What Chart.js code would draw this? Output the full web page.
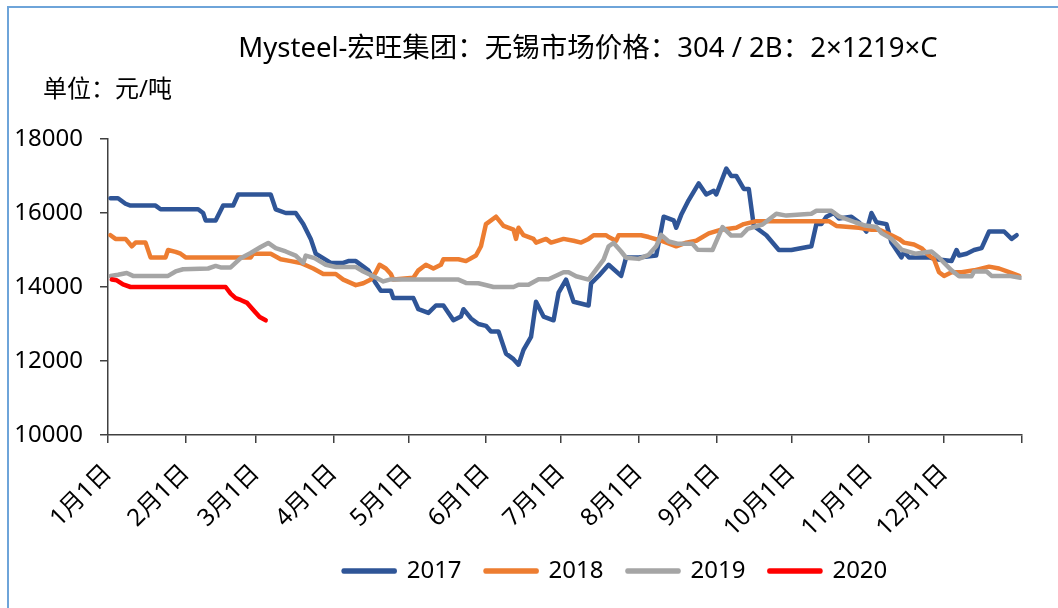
<!DOCTYPE html>
<html>
<head>
<meta charset="utf-8">
<script src="https://cdn.jsdelivr.net/npm/chart.js@4/dist/chart.umd.min.js"></script>
<style>
  html, body { margin: 0; padding: 0; background: #fff; }
  #wrap { position: relative; width: 1058px; height: 608px; overflow: hidden; }
  #frame { position: absolute; left: 7px; top: 6px; width: 1100px; height: 700px;
           border-left: 2px solid #6ea4d9; border-top: 2px solid #6ea4d9; }
  canvas { position: absolute; left: 0; top: 0; }
</style>
</head>
<body>
<div id="wrap">
  <div id="frame"></div>
  <canvas id="chart" width="1058" height="608"></canvas>
</div>
<script>
// DATA: [day of year, price]
const monthStarts = [0, 31, 59, 90, 120, 151, 181, 212, 243, 273, 304, 334, 365];
const monthLabels = ['1月1日', '2月1日', '3月1日', '4月1日', '5月1日', '6月1日', '7月1日',
  '8月1日', '9月1日', '10月1日', '11月1日', '12月1日', ''];
const yTicks = [10000, 12000, 14000, 16000, 18000];

const price2017 = [[1,16400],[4,16400],[7,16250],[9,16200],[19,16200],[21,16100],[36,16100],[38,16000],
  [39,15800],[43,15800],[46,16200],[50,16200],[52,16500],[65,16500],[67,16100],[71,16000],[75,16000],
  [78,15700],[81,15300],[83,14900],[89,14650],[94,14650],[96,14700],[99,14700],[102,14550],[104,14450],
  [107,14100],[109,13900],[113,13900],[114,13700],[122,13700],[124,13400],[128,13300],[131,13500],
  [134,13500],[138,13100],[141,13200],[142,13400],[145,13150],[148,13000],[151,12950],[153,12800],
  [156,12800],[159,12200],[162,12050],[164,11900],[166,12300],[169,12650],[171,13600],[174,13200],
  [178,13100],[180,13850],[183,14200],[186,13600],[192,13500],[193,14100],[196,14300],[200,14600],
  [205,14300],[207,14800],[212,14800],[219,14850],[222,15900],[226,15800],[227,15600],[229,15950],
  [232,16350],[236,16800],[239,16500],[242,16600],[243,16500],[247,17200],[249,17000],[251,17000],
  [254,16650],[256,16650],[258,15650],[263,15400],[268,15000],[273,15000],[281,15100],[283,15700],
  [285,15700],[287,15900],[290,16000],[292,15850],[297,15900],[300,15750],[303,15500],[305,16000],
  [307,15750],[311,15700],[313,15200],[317,14800],[318,14950],[320,14800],[328,14800],[331,14750],
  [337,14700],[339,15000],[340,14850],[343,14900],[346,15000],[349,15050],[352,15500],[358,15500],
  [361,15300],[363,15400]];

const price2018 = [[1,15400],[3,15300],[7,15300],[9.5,15100],[11,15200],[15,15200],[17,14800],[23,14800],
  [24,15000],[27,14950],[29,14900],[31,14800],[57,14800],[58,14900],[65,14900],[69,14750],[73,14700],
  [77,14650],[82,14500],[86,14350],[91,14350],[94,14200],[99,14050],[102,14100],[105,14200],[107,14400],
  [108.5,14600],[111,14500],[113,14350],[114,14200],[122,14250],[124,14450],[127,14600],[130,14500],
  [133,14600],[134,14750],[140,14750],[143,14700],[147,14850],[149,15100],[151,15700],[155,15900],
  [158,15650],[162,15550],[163,15300],[164,15600],[166,15400],[170,15300],[171,15200],[175,15300],
  [177,15200],[182,15300],[186,15250],[189,15200],[192,15300],[194,15400],[199,15400],[200,15350],
  [203,15250],[204,15400],[213,15400],[216,15350],[221,15250],[227,15100],[231,15200],[235,15250],
  [240,15450],[245,15550],[251,15600],[254,15700],[259,15780],[288,15780],[291,15650],[300,15600],
  [305,15550],[308,15550],[313,15400],[316,15300],[318,15200],[322,15150],[325,15050],[328,14850],
  [330,14750],[332,14400],[334,14300],[337,14400],[341,14400],[346,14450],[352,14550],[356,14500],
  [360,14400],[364,14300]];

const price2019 = [[1,14300],[4,14330],[7.5,14380],[10,14300],[24,14300],[27,14420],[30,14480],[40,14500],
  [43,14570],[45,14530],[49,14530],[53,14780],[57,14920],[61,15080],[64,15190],[67,15050],[71,14960],
  [75,14850],[78,14650],[79,14850],[82.5,14780],[87,14600],[91,14540],[99,14540],[102,14420],[106,14290],
  [110,14150],[112.5,14200],[140,14200],[143,14110],[148,14100],[154,14000],[162,14000],[164,14060],
  [168,14060],[172,14210],[176,14210],[182,14400],[184,14400],[187,14290],[192,14200],[195,14470],
  [198,14740],[200,15100],[202,15190],[205,14960],[207,14790],[212,14760],[216,14870],[219,15100],
  [221,15410],[224,15230],[227.5,15170],[233.5,15170],[235.5,15010],[241.5,15000],[245.5,15620],
  [249,15390],[253,15390],[255.5,15570],[261.5,15690],[267,15980],[271,15930],[281,15980],[283,16060],
  [289,16060],[292,15910],[298.5,15750],[302.5,15660],[307,15620],[309,15460],[313,15300],[317,15010],
  [322.5,14900],[329,14960],[332,14790],[337,14450],[340,14290],[345,14290],[346,14420],[351,14420],
  [353,14300],[360,14300],[364.5,14250]];

const price2020 = [[1.5,14200],[3.5,14180],[6,14070],[9,14000],[47,14000],[49,13820],[51,13700],
  [53,13650],[55.6,13570],[58.6,13340],[60.6,13190],[63,13100]];

const titleText = 'Mysteel-宏旺集团：无锡市场价格：304 / 2B：2×1219×C';
const unitText = '单位：元/吨';

const FONT = "'Noto Sans', 'Noto Sans CJK SC', sans-serif";

const makeSet = (label, rows, color, order) => ({
  label: label,
  data: rows.map(r => ({x: r[0], y: r[1]})),
  borderColor: color,
  backgroundColor: color,
  borderWidth: 4.5,
  borderCapStyle: 'round',
  borderJoinStyle: 'round',
  pointRadius: 0,
  tension: 0,
  order: order
});

// title + unit text drawn at fixed spots
const textPlugin = {
  id: 'extraText',
  afterDraw(chart) {
    const ctx = chart.ctx;
    ctx.save();
    ctx.fillStyle = '#000';
    ctx.textBaseline = 'middle';
    ctx.font = `27.5px ${FONT}`;
    ctx.textAlign = 'center';
    ctx.fillText(titleText, 588, 49);
    ctx.font = `24px ${FONT}`;
    ctx.textAlign = 'left';
    ctx.fillText(unitText, 43, 90);
    ctx.restore();
  }
};

// legend sits right of centre in the original, nudge it over
const legendNudge = {
  id: 'legendNudge',
  afterLayout(chart) {
    const lg = chart.legend;
    lg.left += 104;
    lg.right += 104;
    lg.top -= 15;
    lg.bottom -= 15;
  }
};

const ctx = document.getElementById('chart');
new Chart(ctx, {
  type: 'line',
  data: {
    datasets: [
      makeSet('2017', price2017, '#2f5597', 3),
      makeSet('2018', price2018, '#ed7d31', 2),
      makeSet('2019', price2019, '#a5a5a5', 1),
      makeSet('2020', price2020, '#ff0000', 0)
    ]
  },
  options: {
    responsive: false,
    animation: false,
    layout: { padding: { left: 0, right: 35, top: 139, bottom: 0 } },
    plugins: {
      title: { display: false },
      tooltip: { enabled: false },
      legend: {
        position: 'bottom',
        labels: {
          boxWidth: 51,
          boxHeight: 1,
          padding: 24,
          color: '#000',
          font: { family: FONT, size: 24 },
          sort: (a, b) => a.datasetIndex - b.datasetIndex
        }
      }
    },
    scales: {
      x: {
        type: 'linear',
        min: 0,
        max: 365,
        afterBuildTicks: s => { s.ticks = monthStarts.map(v => ({ value: v })); },
        afterFit: s => { s.height = 115; },
        ticks: {
          callback: (v, i) => monthLabels[i],
          autoSkip: false,
          minRotation: 45,
          maxRotation: 45,
          padding: 16,
          color: '#000',
          font: { family: FONT, size: 24 }
        },
        grid: { drawOnChartArea: false, drawTicks: true, tickLength: 8, color: '#404040', lineWidth: 1.5 },
        border: { color: '#404040', width: 1.5 }
      },
      y: {
        min: 10000,
        max: 18000,
        afterBuildTicks: s => { s.ticks = yTicks.map(v => ({ value: v })); },
        afterFit: s => { s.width = 108; },
        ticks: {
          callback: v => String(v),
          padding: 17,
          color: '#000',
          font: { family: FONT, size: 24 }
        },
        grid: { drawOnChartArea: false, drawTicks: true, tickLength: 8, color: '#404040', lineWidth: 1.5 },
        border: { color: '#404040', width: 1.5 }
      }
    }
  },
  plugins: [textPlugin, legendNudge]
});
</script>
</body>
</html>
